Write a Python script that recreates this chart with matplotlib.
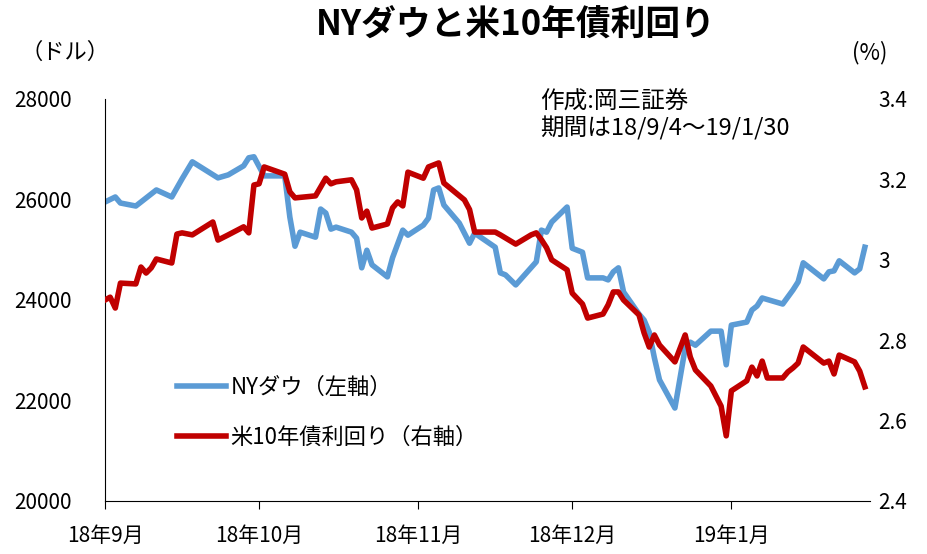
import matplotlib
matplotlib.use("Agg")
import matplotlib.pyplot as plt
import pandas as pd

plt.rcParams['font.family'] = ['Noto Sans CJK JP', 'DejaVu Sans']

# NYダウ (左軸)
dow_dates = [
    "2018-09-04", "2018-09-06", "2018-09-07", "2018-09-10", "2018-09-12", "2018-09-14",
    "2018-09-17", "2018-09-19", "2018-09-21", "2018-09-26", "2018-09-28", "2018-10-01",
    "2018-10-02", "2018-10-03", "2018-10-05", "2018-10-09", "2018-10-10", "2018-10-11",
    "2018-10-12", "2018-10-15", "2018-10-16", "2018-10-17", "2018-10-18", "2018-10-19",
    "2018-10-22", "2018-10-23", "2018-10-24", "2018-10-25", "2018-10-26", "2018-10-29",
    "2018-10-30", "2018-11-01", "2018-11-02", "2018-11-05", "2018-11-06", "2018-11-07",
    "2018-11-08", "2018-11-09", "2018-11-12", "2018-11-13", "2018-11-14", "2018-11-15",
    "2018-11-19", "2018-11-20", "2018-11-21", "2018-11-23", "2018-11-27", "2018-11-28",
    "2018-11-29", "2018-11-30", "2018-12-03", "2018-12-04", "2018-12-06", "2018-12-07",
    "2018-12-10", "2018-12-11", "2018-12-12", "2018-12-13", "2018-12-14", "2018-12-17",
    "2018-12-18", "2018-12-19", "2018-12-20", "2018-12-21", "2018-12-24", "2018-12-26",
    "2018-12-27", "2018-12-28", "2018-12-31", "2019-01-02", "2019-01-03", "2019-01-04",
    "2019-01-07", "2019-01-08", "2019-01-09", "2019-01-10", "2019-01-14", "2019-01-15",
    "2019-01-16", "2019-01-17", "2019-01-18", "2019-01-22", "2019-01-23", "2019-01-24",
    "2019-01-25", "2019-01-28", "2019-01-29", "2019-01-30",
]
dow_values = [
    25950, 26050, 25930, 25870, 26030, 26190,
    26050, 26410, 26750, 26430, 26490, 26670,
    26830, 26850, 26470, 26470, 25650, 25070,
    25350, 25250, 25810, 25730, 25410, 25450,
    25350, 25230, 24640, 24990, 24700, 24460,
    24840, 25390, 25290, 25490, 25630, 26190,
    26230, 25890, 25530, 25330, 25130, 25330,
    25050, 24540, 24500, 24300, 24760, 25390,
    25350, 25550, 25850, 25030, 24950, 24440,
    24440, 24400, 24560, 24640, 24160, 23720,
    23600, 23360, 22850, 22410, 21850, 23040,
    23160, 23100, 23380, 23380, 22710, 23500,
    23560, 23800, 23880, 24040, 23920, 24060,
    24200, 24360, 24740, 24420, 24560, 24580,
    24780, 24540, 24620, 25050,
]

# 米10年債利回り (右軸)
yield_dates = [
    "2018-09-04", "2018-09-05", "2018-09-06", "2018-09-07", "2018-09-10", "2018-09-11",
    "2018-09-12", "2018-09-13", "2018-09-14", "2018-09-17", "2018-09-18", "2018-09-19",
    "2018-09-21", "2018-09-25", "2018-09-26", "2018-09-28", "2018-10-01", "2018-10-02",
    "2018-10-03", "2018-10-04", "2018-10-05", "2018-10-09", "2018-10-10", "2018-10-11",
    "2018-10-15", "2018-10-17", "2018-10-18", "2018-10-19", "2018-10-22", "2018-10-23",
    "2018-10-24", "2018-10-25", "2018-10-26", "2018-10-29", "2018-10-30", "2018-10-31",
    "2018-11-01", "2018-11-02", "2018-11-05", "2018-11-06", "2018-11-08", "2018-11-09",
    "2018-11-13", "2018-11-14", "2018-11-15", "2018-11-19", "2018-11-20", "2018-11-23",
    "2018-11-26", "2018-11-27", "2018-11-28", "2018-11-29", "2018-11-30", "2018-12-03",
    "2018-12-04", "2018-12-06", "2018-12-07", "2018-12-10", "2018-12-11", "2018-12-12",
    "2018-12-13", "2018-12-14", "2018-12-17", "2018-12-18", "2018-12-19", "2018-12-20",
    "2018-12-21", "2018-12-24", "2018-12-26", "2018-12-27", "2018-12-28", "2018-12-31",
    "2019-01-02", "2019-01-03", "2019-01-04", "2019-01-07", "2019-01-08", "2019-01-09",
    "2019-01-10", "2019-01-11", "2019-01-14", "2019-01-15", "2019-01-16", "2019-01-17",
    "2019-01-18", "2019-01-22", "2019-01-23", "2019-01-24", "2019-01-25", "2019-01-28",
    "2019-01-29", "2019-01-30",
]
yield_values = [
    2.900, 2.907, 2.880, 2.942, 2.940, 2.982,
    2.967, 2.980, 3.002, 2.992, 3.064, 3.067,
    3.062, 3.094, 3.049, 3.062, 3.082, 3.067,
    3.186, 3.189, 3.231, 3.213, 3.169, 3.154,
    3.159, 3.203, 3.189, 3.194, 3.199, 3.174,
    3.104, 3.121, 3.079, 3.089, 3.129, 3.144,
    3.134, 3.218, 3.203, 3.231, 3.241, 3.191,
    3.149, 3.125, 3.069, 3.069, 3.062, 3.039,
    3.062, 3.067, 3.050, 3.030, 3.000, 2.975,
    2.917, 2.890, 2.855, 2.865, 2.888, 2.920,
    2.920, 2.900, 2.863, 2.818, 2.783, 2.813,
    2.788, 2.746, 2.813, 2.758, 2.726, 2.686,
    2.636, 2.562, 2.674, 2.699, 2.733, 2.711,
    2.748, 2.706, 2.706, 2.721, 2.731, 2.743,
    2.783, 2.743, 2.748, 2.716, 2.763, 2.746,
    2.723, 2.684,
]

tick_dates = ["2018-09-04", "2018-10-04", "2018-11-04", "2018-12-04", "2019-01-04"]
tick_labels = ["18年9月", "18年10月", "18年11月", "18年12月", "19年1月"]

blue = "#5B9BD5"
red = "#C00000"

fig = plt.figure(figsize=(9.27, 5.54), dpi=100)
ax = fig.add_axes([0.1133, 0.0957, 0.8252, 0.7256])
ax2 = ax.twinx()

ax.plot(pd.to_datetime(dow_dates), dow_values, color=blue, lw=4,
        solid_joinstyle="round", label="NYダウ（左軸）")
ax2.plot(pd.to_datetime(yield_dates), yield_values, color=red, lw=4,
         solid_joinstyle="round", label="米10年債利回り（右軸）")

ax.set_xlim(pd.Timestamp("2018-09-04"), pd.Timestamp("2019-01-31"))
ax.set_ylim(20000, 28000)
ax.set_yticks([20000, 22000, 24000, 26000, 28000])
ax2.set_ylim(2.4, 3.4)
ax2.set_yticks([2.4, 2.6, 2.8, 3.0, 3.2, 3.4])
ax2.set_yticklabels(["2.4", "2.6", "2.8", "3", "3.2", "3.4"])

ax.set_xticks(pd.to_datetime(tick_dates))
ax.set_xticklabels(tick_labels)

for a in (ax, ax2):
    a.spines["top"].set_visible(False)
    a.spines["right"].set_visible(False)
ax2.spines["left"].set_visible(False)
ax2.spines["bottom"].set_visible(False)

ax.tick_params(axis="y", length=0, pad=24, labelsize=15)
ax2.tick_params(axis="y", length=0, pad=6, labelsize=15)
ax.tick_params(axis="x", direction="out", length=6, pad=11, labelsize=15)

fig.text(0.556, 0.955, "NYダウと米10年債利回り", ha="center", va="center",
         fontsize=25, fontweight="bold")
fig.text(0.07, 0.905, "（ドル）", ha="center", va="center", fontsize=16)
fig.text(0.938, 0.905, "(%)", ha="center", va="center", fontsize=16)
fig.text(0.583, 0.818, "作成:岡三証券", ha="left", va="center", fontsize=17)
fig.text(0.583, 0.768, "期間は18/9/4～19/1/30", ha="left", va="center", fontsize=17)

h1, l1 = ax.get_legend_handles_labels()
h2, l2 = ax2.get_legend_handles_labels()
ax.legend(h1 + h2, l1 + l2, loc="lower left", bbox_to_anchor=(0.068, 0.08),
          frameon=False, fontsize=16, handlelength=2.2, handletextpad=0.2,
          labelspacing=1.2)

fig.savefig("out.png", dpi=100)
